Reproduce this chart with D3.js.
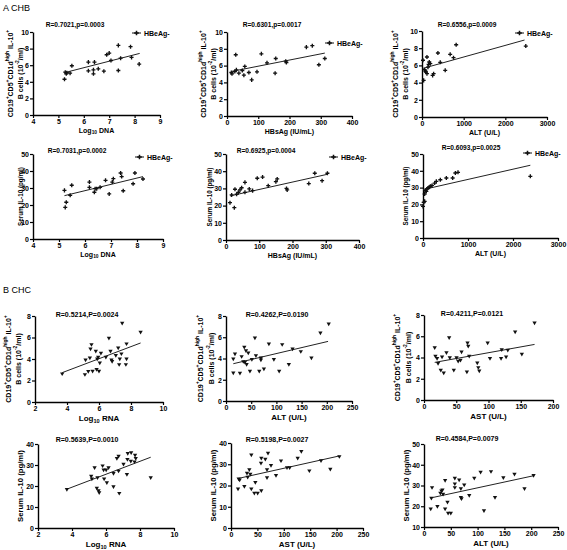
<!DOCTYPE html>
<html><head><meta charset="utf-8">
<script src="https://cdn.jsdelivr.net/npm/d3@7"></script>
<style>
body{margin:0;background:#fff;}
text{font-family:"Liberation Sans",Arial,sans-serif;}
</style></head>
<body>
<script>
// ---------- DATA ----------
// Row A (CHB, HBeAg-)
const dnaBcell = [[5.24,4.31],[5.27,5.16],[5.31,4.96],[5.33,5.1],[5.46,5.04],[5.53,5.93],[6.18,6.37],[6.18,5.32],[6.38,5.44],[6.38,4.96],[6.42,6.37],[6.57,5.56],[6.79,5.28],[6.9,7.26],[7.0,7.46],[7.07,6.57],[7.36,8.39],[7.36,5.36],[7.45,6.85],[7.84,8.23],[7.88,6.94],[8.18,6.13]];
const dnaBcellFit = [[5.24,5.1],[8.2,7.42]];
const hbsBcell = [[14,5.18],[16,5.02],[25,5.3],[28,7.29],[30,5.5],[38,5.1],[49,5.42],[57,5.9],[54,4.86],[70,5.18],[79,4.3],[96,5.26],[110,7.4],[128,6.33],[154,5.1],[156,6.85],[188,6.53],[190,6.37],[254,8.2],[273,8.37],[294,6.1],[313,6.85]];
const hbsBcellFit = [[14,5.3],[313,7.49]];
const altBcell = [[24,6.6],[40,4.26],[64,5.5],[80,5.35],[95,5.23],[119,6.98],[119,5.04],[143,5.8],[159,6.12],[175,6.4],[199,6.2],[255,4.84],[279,5.04],[382,7.44],[438,6.36],[557,5.43],[676,7.29],[756,6.9],[820,8.4],[2491,8.25]];
const altBcellFit = [[20,5.65],[2460,8.95]];
const dnaIL10 = [[5.21,28.6],[5.24,18.6],[5.28,21.6],[5.43,25.7],[5.49,31.6],[6.17,33.5],[6.17,30.4],[6.36,27.5],[6.39,29.6],[6.45,29.6],[6.58,30.4],[6.79,34.5],[6.93,26.5],[7.05,33.5],[7.09,35.5],[7.37,38.8],[7.41,36.7],[7.47,28.4],[7.85,32.5],[7.92,38.8],[8.23,35.3]];
const dnaIL10Fit = [[5.21,25.5],[8.23,36.7]];
const hbsIL10 = [[12,21.7],[17,26.2],[25,18.8],[27,29.5],[32,26.6],[37,27.7],[42,29.1],[47,30.4],[57,27.7],[57,33.5],[70,29.7],[80,28.7],[94,35.9],[110,36.6],[127,31.6],[150,33.9],[154,35.5],[182,30.0],[184,29.1],[249,32.8],[267,38.8],[289,34.5],[305,38.8]];
const hbsIL10Fit = [[12,25.6],[305,38.2]];
const altIL10 = [[0,18.8],[15,21.2],[37,21.8],[37,26.2],[52,28.2],[74,27.8],[89,29.2],[111,29.8],[141,30.2],[163,30.8],[200,31.3],[259,32.7],[296,33.7],[385,34.7],[519,35.7],[659,35.7],[719,38.7],[778,39.1],[2385,36.7]];
const altIL10Fit = [[0,28.8],[2385,43.3]];
// Row B (CHC)
const rnaBcell = [[3.7,2.64],[5.12,2.57],[5.16,3.94],[5.33,2.85],[5.43,4.12],[5.47,4.96],[5.53,5.36],[5.6,2.88],[5.8,4.74],[5.85,3.04],[5.89,4.03],[5.95,4.19],[6.0,2.88],[6.05,3.66],[6.12,4.56],[6.43,4.19],[6.62,5.95],[6.72,4.74],[6.78,3.94],[6.82,3.78],[7.05,4.34],[7.2,5.05],[7.26,3.5],[7.3,4.03],[7.4,4.5],[7.45,7.35],[7.68,3.5],[7.72,4.03],[7.72,5.43],[8.6,6.51]];
const rnaBcellFit = [[3.7,2.73],[8.6,5.49]];
const altBcellC = [[14.5,2.66],[14.5,3.98],[17.8,4.45],[27.7,2.63],[31,4.2],[34.3,3.73],[36.3,5.08],[37.6,3.67],[39.6,4.76],[40.9,3.45],[44.2,4.55],[47.5,2.82],[51.4,3.92],[57.4,5.96],[59.4,4.29],[66,2.82],[69.3,4.08],[69.3,3.89],[75.2,3.04],[85.1,5.39],[95,3.92],[105.5,2.82],[111.5,5.33],[124.7,3.45],[132,4.92],[148.4,4.67],[169.5,4.08],[187.3,6.43],[203.8,7.27]];
const altBcellCFit = [[14.5,3.51],[202.5,5.61]];
const astBcellC = [[16.6,4.95],[17.7,4.14],[20.3,3.92],[21.8,3.45],[26,2.82],[28,4.08],[30.6,2.57],[34.8,4.48],[39,5.89],[40,4.01],[46.2,2.82],[50.4,4.01],[53,3.67],[56.6,3.76],[58.2,4.55],[66.5,2.66],[67.5,5.39],[68.6,5.08],[70.1,4.14],[82.6,3.51],[84.2,3.07],[85.7,2.76],[98.7,5.39],[102.3,3.92],[119.5,3.92],[120.5,4.76],[127.3,4.08],[129.9,4.7],[141.3,6.43],[151.7,4.33],[171.4,7.27]];
const astBcellCFit = [[16.6,3.54],[171.4,5.23]];
const rnaIL10 = [[3.7,18.5],[5.13,24.8],[5.17,23.4],[5.33,28.8],[5.46,19.0],[5.5,24.0],[5.56,17.9],[5.6,16.9],[5.8,29.7],[5.86,27.7],[5.89,23.4],[6.01,27.7],[6.05,21.7],[6.15,28.8],[6.44,26.1],[6.44,19.8],[6.64,33.2],[6.74,34.3],[6.74,27.2],[6.78,16.6],[7.03,30.5],[7.23,25.6],[7.26,32.7],[7.28,35.6],[7.46,31.9],[7.48,36.0],[7.68,31.6],[7.71,34.8],[7.75,33.2],[8.63,24.0]];
const rnaIL10Fit = [[3.7,18.5],[8.63,33.7]];
const astIL10 = [[13.3,18.5],[14.5,23.2],[16.4,22.7],[25.3,19.6],[30.3,25.9],[31.6,24.0],[34.7,27.5],[36.6,25.4],[38.5,34.5],[38.5,18.5],[44.2,16.5],[46.1,21.5],[50.5,16.5],[56.8,30.6],[57.4,32.9],[57.4,17.6],[65,32.5],[68.2,27.5],[68.2,23.8],[70.1,35.3],[75.8,29.5],[85.2,24.8],[94.7,31.7],[106.1,28.5],[111.1,28.5],[126.3,32.9],[133.2,36.1],[148.4,27.0],[170.5,31.8],[188.1,27.8],[205.2,33.7]];
const astIL10Fit = [[13.3,23.3],[205,33.9]];
const altIL10C = [[12.5,18.8],[13.8,24.0],[15,29.1],[25,20.0],[30.6,26.4],[32.5,27.5],[34.4,28.0],[35.6,25.9],[39.4,32.5],[39.4,18.8],[43.8,22.0],[45,16.7],[50,16.7],[57.5,33.6],[57.5,30.9],[57.5,29.1],[65.6,32.8],[68.8,28.5],[68.8,24.3],[70,23.7],[75,30.4],[84.4,25.3],[93.8,33.6],[105.6,36.5],[111.9,17.9],[125,36.8],[132.5,24.3],[148,33.9],[168.8,35.5],[187.5,28.5],[204.4,34.9]];
const altIL10CFit = [[12.5,24.0],[204.4,34.7]];

const titles = ["R=0.7021,p=0.0003","R=0.6301,p=0.0017","R=0.6556,p=0.0009","R=0.7031,p=0.0002","R=0.6925,p=0.0004","R=0.6093,p=0.0025",
  "R=0.5214,P=0.0024","R=0.4262,P=0.0190","R=0.4211,P=0.0121","R=0.5639,P=0.0010","R=0.5198,P=0.0027","R=0.4584,P=0.0079"];
const ticksLogA = [4,5,6,7,8,9];
const ticksHBs = [0,100,200,300,400];
const ticksALTA = [0,1000,2000,3000];
const ticksBcellA = [0,2,4,6,8,10];
const ticksIL10A = [0,10,20,30,40,50];
const ticksLogB = [2,4,6,8,10];
const ticks250 = [0,50,100,150,200,250];
const ticks200 = [0,50,100,150,200];
const ticksBcellB = [0,2,4,6,8];
const ticksIL10B = [0,10,20,30,40];
const ticksIL10B2 = [10,20,30,40,50];
const legendLabel = "HBeAg-";

// ---------- DRAWING ----------
const svg = d3.select("body").append("svg").attr("width",567).attr("height",550);

const bcellLabel = [
  [["CD19"],["+",1],["CD5"],["+",1],["CD1d"],["high",1],[" IL-10"],["+",1]],
  [["B cells (10"],["-2",1],["/ml)"]]
];
const il10Label = [[["Serum IL-10 (pg/ml)"]]];

function richText(sel, segs, fs){
  let shift = 0;
  segs.forEach(s=>{
    const t = sel.append("tspan").text(s[0]);
    if(s[1]===1){ t.attr("font-size",fs*0.7).attr("dy",-fs*0.38-shift); shift=-fs*0.38; }
    else if(s[1]===2){ t.attr("font-size",fs*0.7).attr("dy",fs*0.25-shift); shift=fs*0.25; }
    else { t.attr("dy",-shift); shift=0; }
  });
}

const FS = {
  A:{tick:7,title:6.6,x:7,yB:7,yS:6.3,xly:17.5},
  B:{tick:7,title:7,x:8,yB:7,yS:7.7,xly:18.5}
};

function panel(c){
  const f = FS[c.row];
  const x = d3.scaleLinear().domain(c.xd).range([c.x0,c.x1]);
  const y = d3.scaleLinear().domain(c.yd).range([c.yb,c.yt]);
  const g = svg.append("g");
  const ax = g.append("g").attr("transform",`translate(0,${c.yb})`)
    .call(d3.axisBottom(x).tickValues(c.xt).tickSize(3).tickSizeOuter(0).tickPadding(1).tickFormat(d3.format("d")));
  const ay = g.append("g").attr("transform",`translate(${c.x0},0)`)
    .call(d3.axisLeft(y).tickValues(c.yt2).tickSize(3).tickSizeOuter(0).tickPadding(1).tickFormat(d3.format("d")));
  [ax,ay].forEach(a=>{
    a.select(".domain").attr("stroke","#000").attr("stroke-width",1.4);
    a.selectAll(".tick line").attr("stroke","#000").attr("stroke-width",1.2);
    a.selectAll(".tick text").attr("fill","#000").attr("font-size",f.tick).attr("font-weight","bold")
      .attr("font-family","'Liberation Sans',Arial,sans-serif");
  });
  // fit line
  g.append("line").attr("x1",x(c.fit[0][0])).attr("y1",y(c.fit[0][1]))
    .attr("x2",x(c.fit[1][0])).attr("y2",y(c.fit[1][1])).attr("stroke","#222").attr("stroke-width",1);
  // points
  const sym = c.tri ? d3.symbol().type(d3.symbolTriangle).size(8) : d3.symbol().type(d3.symbolCross).size(9);
  g.selectAll("path.pt").data(c.data).join("path").attr("class","pt")
    .attr("d",sym)
    .attr("transform",d=>`translate(${x(d[0])},${y(d[1])})${c.tri?" rotate(180)":""}`)
    .attr("fill","#111");
  // title
  g.append("text").attr("x",c.tx).attr("y",c.ty).attr("text-anchor","middle")
    .attr("font-size",f.title).attr("font-weight","bold").text(c.title);
  // x label
  const xl = g.append("text").attr("x",(c.x0+c.x1)/2).attr("y",c.yb+f.xly).attr("text-anchor","middle")
    .attr("font-size",f.x).attr("font-weight","bold");
  richText(xl, c.xl, f.x);
  // y label
  const cy = (c.yt+c.yb)/2;
  const yfs = c.yl.length>1 ? f.yB : f.yS;
  c.yl.forEach((line,i)=>{
    const t = g.append("text").attr("transform",`translate(${c.ylx[i]},${cy}) rotate(-90)`)
      .attr("text-anchor","middle").attr("dominant-baseline","central")
      .attr("font-size",yfs).attr("font-weight","bold");
    richText(t, line, yfs);
  });
  // legend
  if(c.leg){
    const [lx,ly] = c.leg;
    g.append("line").attr("x1",lx).attr("x2",lx+9).attr("y1",ly).attr("y2",ly).attr("stroke","#111").attr("stroke-width",1);
    g.append("path").attr("d",d3.symbol().type(d3.symbolCross).size(12)).attr("transform",`translate(${lx+4.5},${ly})`).attr("fill","#111");
    g.append("text").attr("x",lx+12).attr("y",ly).attr("dominant-baseline","central")
      .attr("font-size",7).attr("font-weight","bold").text(legendLabel);
  }
}

const logDNA = [["Log"],["10",2],[" DNA"]];
const logRNA = [["Log"],["10",2],[" RNA"]];

panel({row:"A",x0:33,x1:160,yt:32,yb:115,xd:[4,9],yd:[0,10],xt:ticksLogA,yt2:ticksBcellA,data:dnaBcell,fit:dnaBcellFit,
  title:titles[0],tx:75,ty:27,xl:logDNA,yl:bcellLabel,ylx:[10,20],leg:[132,33]});
panel({row:"A",x0:227,x1:352,yt:32,yb:116,xd:[0,400],yd:[0,10],xt:ticksHBs,yt2:ticksBcellA,data:hbsBcell,fit:hbsBcellFit,
  title:titles[1],tx:272,ty:27,xl:[["HBsAg (IU/mL)"]],yl:bcellLabel,ylx:[203,213],leg:[325,43]});
panel({row:"A",x0:422,x1:547,yt:31,yb:117,xd:[0,3000],yd:[0,10],xt:ticksALTA,yt2:ticksBcellA,data:altBcell,fit:altBcellFit,
  title:titles[2],tx:467,ty:27,xl:[["ALT (U/L)"]],yl:bcellLabel,ylx:[395,405],leg:[515,33]});
panel({row:"A",x0:33,x1:163,yt:154,yb:239,xd:[4,9],yd:[0,50],xt:ticksLogA,yt2:ticksIL10A,data:dnaIL10,fit:dnaIL10Fit,
  title:titles[3],tx:77,ty:153,xl:logDNA,yl:il10Label,ylx:[20],leg:[135,157]});
panel({row:"A",x0:226,x1:359,yt:154,yb:240,xd:[0,400],yd:[0,50],xt:ticksHBs,yt2:ticksIL10A,data:hbsIL10,fit:hbsIL10Fit,
  title:titles[4],tx:266,ty:153,xl:[["HBsAg (IU/mL)"]],yl:il10Label,ylx:[209],leg:[329,157]});
panel({row:"A",x0:423,x1:558,yt:154,yb:238,xd:[0,3000],yd:[0,50],xt:ticksALTA,yt2:ticksIL10A,data:altIL10,fit:altIL10Fit,
  title:titles[5],tx:471,ty:150,xl:[["ALT (U/L)"]],yl:il10Label,ylx:[405],leg:[523,153]});

panel({row:"B",x0:35,x1:163,yt:316,yb:402,xd:[2,10],yd:[0,8],xt:ticksLogB,yt2:ticksBcellB,data:rnaBcell,fit:rnaBcellFit,tri:true,
  title:titles[6],tx:87,ty:317,xl:logRNA,yl:bcellLabel,ylx:[8,18]});
panel({row:"B",x0:226,x1:352,yt:316,yb:401,xd:[0,250],yd:[0,8],xt:ticks250,yt2:ticksBcellB,data:altBcellC,fit:altBcellCFit,tri:true,
  title:titles[7],tx:277,ty:317,xl:[["ALT (U/L)"]],yl:bcellLabel,ylx:[200,211]});
panel({row:"B",x0:424,x1:553,yt:315,yb:400,xd:[0,200],yd:[0,8],xt:ticks200,yt2:ticksBcellB,data:astBcellC,fit:astBcellCFit,tri:true,
  title:titles[8],tx:472,ty:316,xl:[["AST (U/L)"]],yl:bcellLabel,ylx:[397,408]});
panel({row:"B",x0:38,x1:174,yt:444,yb:528,xd:[2,10],yd:[0,40],xt:ticksLogB,yt2:ticksIL10B,data:rnaIL10,fit:rnaIL10Fit,tri:true,
  title:titles[9],tx:87,ty:442,xl:logRNA,yl:il10Label,ylx:[20]});
panel({row:"B",x0:231,x1:363,yt:443,yb:528,xd:[0,250],yd:[0,40],xt:ticks250,yt2:ticksIL10B,data:astIL10,fit:astIL10Fit,tri:true,
  title:titles[10],tx:277,ty:442,xl:[["AST (U/L)"]],yl:il10Label,ylx:[213]});
panel({row:"B",x0:424,x1:558,yt:444,yb:527,xd:[0,250],yd:[10,50],xt:ticks250,yt2:ticksIL10B2,data:altIL10C,fit:altIL10CFit,tri:true,
  title:titles[11],tx:467,ty:441,xl:[["ALT (U/L)"]],yl:il10Label,ylx:[406]});

// section labels
svg.append("text").attr("x",3).attr("y",11).attr("font-family","'Liberation Serif','DejaVu Serif',serif").attr("font-size",9).text("A  CHB");
svg.append("text").attr("x",3).attr("y",293).attr("font-family","'Liberation Serif','DejaVu Serif',serif").attr("font-size",9).text("B  CHC");
</script>
</body></html>
